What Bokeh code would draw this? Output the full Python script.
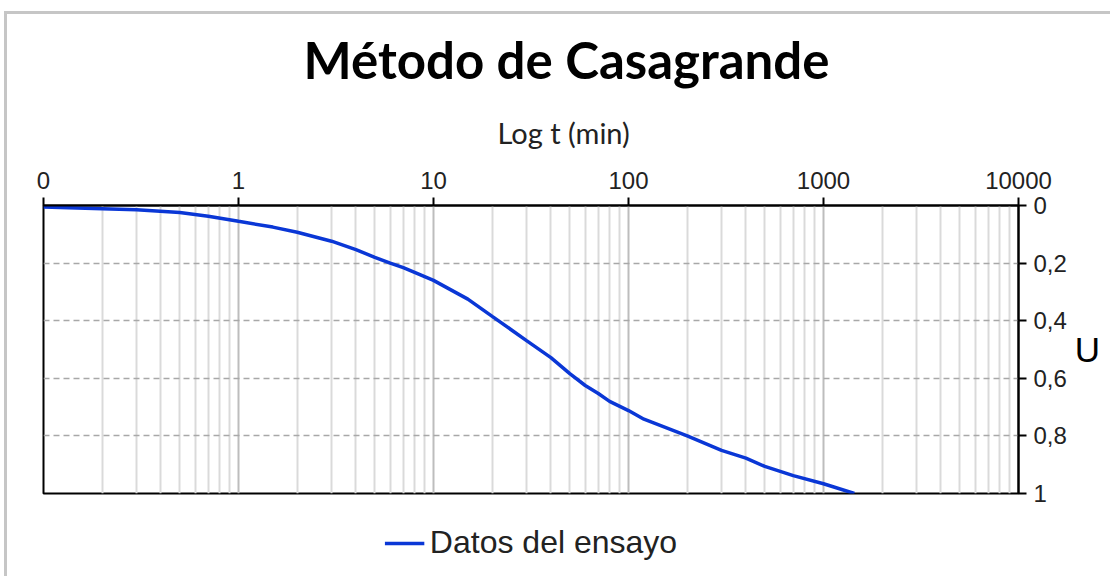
from bokeh.plotting import figure
from bokeh.models import (Range1d, FixedTicker, CustomJSTickFormatter, Legend,
                          LegendItem, Title)
from bokeh.embed import file_html
from bokeh.resources import INLINE

# ---- data ----
t_min = [0.1, 0.2, 0.3, 0.5, 0.7, 1, 1.5, 2, 3, 4, 5, 6, 7, 8, 10, 15, 20,
         30, 40, 50, 60, 70, 80, 100, 120, 200, 300, 400, 500, 700, 1000, 1440]
U = [0.005, 0.011, 0.015, 0.024, 0.037, 0.055, 0.075, 0.093, 0.124, 0.153,
     0.18, 0.2, 0.216, 0.232, 0.26, 0.325, 0.385, 0.469, 0.528, 0.584, 0.625,
     0.653, 0.68, 0.712, 0.742, 0.80, 0.85, 0.877, 0.906, 0.938, 0.966, 1.0]
x_ticks = [0.1, 1, 10, 100, 1000, 10000]
y_ticks = [0, 0.2, 0.4, 0.6, 0.8, 1]
series_name = "Datos del ensayo"
title_text = "Método de Casagrande"
x_label = "Log t (min)"
y_label = "U"

minor = [m * d for d in [0.1, 1, 10, 100, 1000] for m in range(2, 10)]

p = figure(frame_width=975, frame_height=288, x_axis_type="log",
           x_axis_location="above", y_axis_location="right",
           x_range=Range1d(0.1, 10000), y_range=Range1d(1, 0),
           output_backend="svg", toolbar_location=None,
           min_border_left=43, min_border_right=92,
           min_border_top=205, min_border_bottom=83)

p.background_fill_color = "white"
p.border_fill_color = "white"
p.border_fill_alpha = 0
p.outline_line_color = "black"
p.outline_line_width = 2
p.styles = {
    "background": "linear-gradient(#c6c6c6, #c6c6c6) 4px 11px / 100% 3px no-repeat, "
                  "linear-gradient(#c6c6c6, #c6c6c6) 4px 11px / 3px 100% no-repeat, white",
}

# title
p.title.text = title_text
p.title.align = "left"
p.title.offset = 260
p.title.text_font = "Lato"
p.title.text_font_style = "bold"
p.title.text_font_size = "51px"
p.title.text_color = "black"
p.title.standoff = 9

p.add_layout(Title(text=x_label, align="left", offset=454, text_font="Lato",
                   text_font_style="normal", text_font_size="29px",
                   text_color="#222222", standoff=37), "above")

# x axis (top)
xt = FixedTicker(ticks=x_ticks, minor_ticks=minor)
xa = p.xaxis[0]
xa.ticker = xt
xa.formatter = CustomJSTickFormatter(code="return tick < 0.5 ? '0' : tick.toFixed(0);")
xa.axis_line_color = "black"
xa.axis_line_width = 2
xa.major_tick_line_color = "black"
xa.major_tick_line_width = 2
xa.major_tick_out = 8
xa.major_tick_in = 0
xa.minor_tick_line_color = None
xa.major_label_standoff = 9
xa.major_label_text_font = "Liberation Sans"
xa.major_label_text_font_size = "24px"
xa.major_label_text_color = "#222222"

# y axis (right)
ya = p.yaxis[0]
ya.ticker = FixedTicker(ticks=y_ticks)
ya.formatter = CustomJSTickFormatter(
    code="return Number.isInteger(tick) ? tick.toString() : tick.toFixed(1).replace('.', ',');")
ya.axis_line_color = "black"
ya.axis_line_width = 2
ya.major_tick_line_color = "black"
ya.major_tick_line_width = 2
ya.major_tick_out = 8
ya.major_tick_in = 0
ya.minor_tick_line_color = None
ya.major_label_standoff = 7
ya.major_label_text_font = "Liberation Sans"
ya.major_label_text_font_size = "24px"
ya.major_label_text_color = "#222222"
ya.axis_label = y_label
ya.axis_label_orientation = "horizontal"
ya.axis_label_standoff = 5
ya.axis_label_text_font = "Liberation Sans"
ya.axis_label_text_font_style = "normal"
ya.axis_label_text_font_size = "35px"
ya.axis_label_text_color = "black"

# grids
p.xgrid.ticker = xt
p.xgrid.grid_line_color = "#bdbdbd"
p.xgrid.grid_line_width = 2
p.xgrid.minor_grid_line_color = "#dadada"
p.xgrid.minor_grid_line_width = 2
p.ygrid.grid_line_color = "#a8a8a8"
p.ygrid.grid_line_width = 1.5
p.ygrid.grid_line_dash = "6 4"

r = p.line(t_min, U, line_color="#0a37d6", line_width=3.5)

legend = Legend(items=[LegendItem(label=series_name, renderers=[r])],
                location="top", orientation="horizontal",
                label_text_font="Liberation Sans", label_text_font_size="32px",
                label_text_color="#222222",
                glyph_width=40, glyph_height=20, label_standoff=6,
                border_line_color=None, background_fill_alpha=0,
                padding=0, margin=31)
p.add_layout(legend, "below")

open("out.html", "w").write(file_html(p, INLINE))
